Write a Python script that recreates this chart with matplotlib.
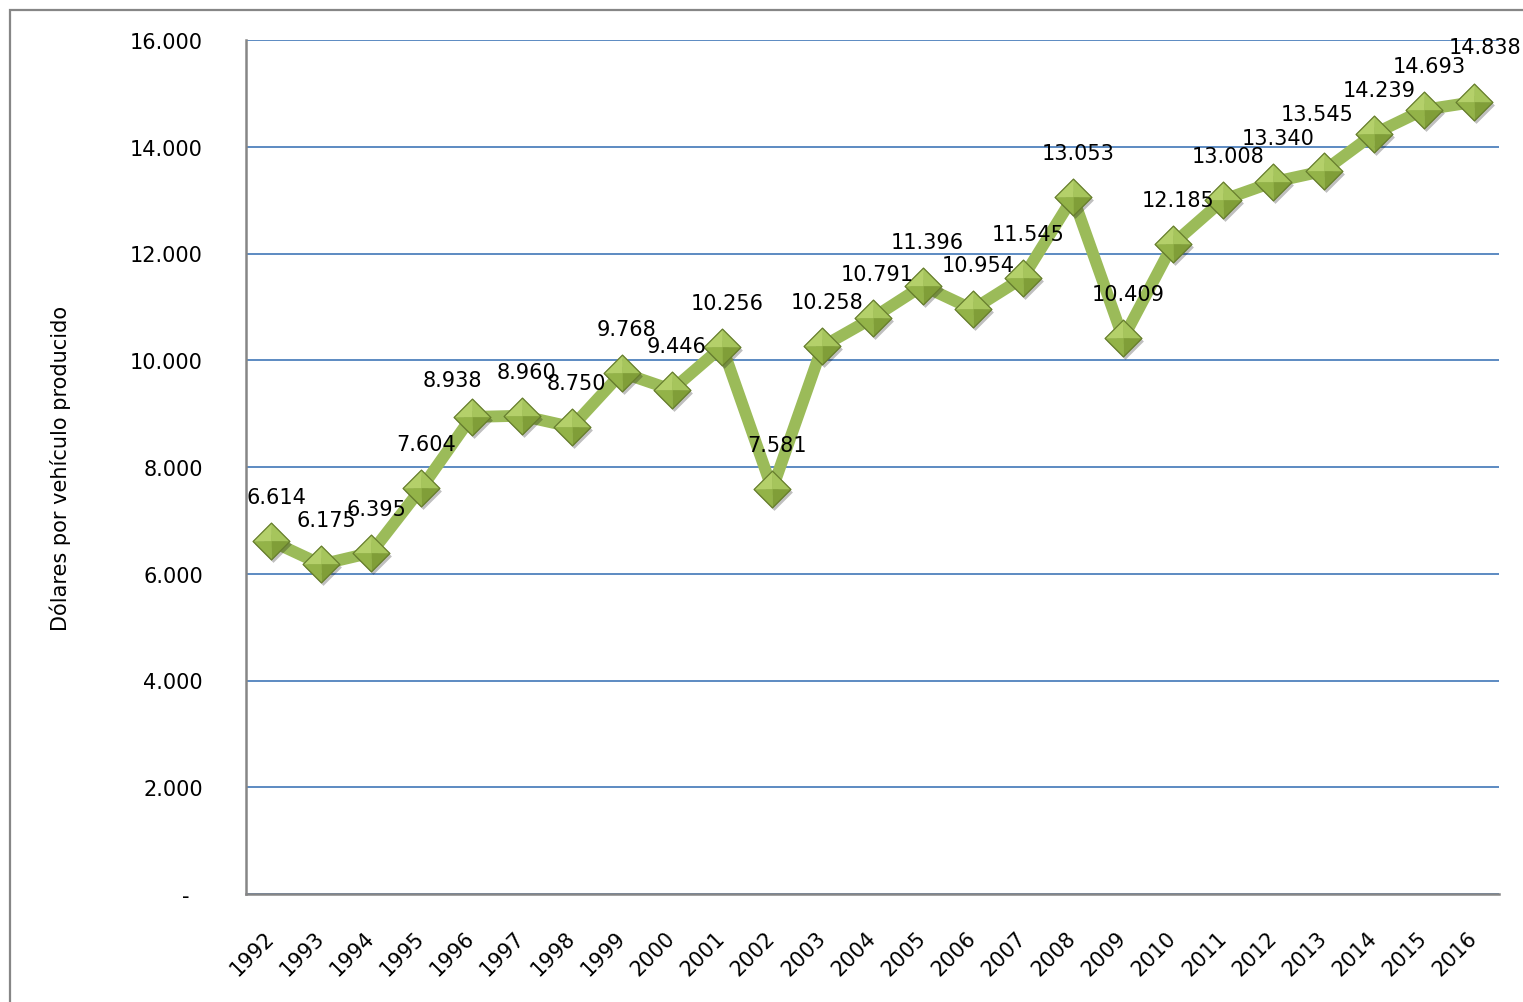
import matplotlib
matplotlib.use("Agg")
import matplotlib.pyplot as plt
from matplotlib.path import Path
from matplotlib.patches import Rectangle
from matplotlib.transforms import ScaledTranslation

years = ["1992", "1993", "1994", "1995", "1996", "1997", "1998", "1999", "2000",
         "2001", "2002", "2003", "2004", "2005", "2006", "2007", "2008", "2009",
         "2010", "2011", "2012", "2013", "2014", "2015", "2016"]
values = [6614, 6175, 6395, 7604, 8938, 8960, 8750, 9768, 9446, 10256, 7581,
          10258, 10791, 11396, 10954, 11545, 13053, 10409, 12185, 13008, 13340,
          13545, 14239, 14693, 14838]
y_ticks = [0, 2000, 4000, 6000, 8000, 10000, 12000, 14000, 16000]
y_label = "Dólares por vehículo producido"

W, H = 1523, 1003
GREEN = "#9BBB59"
GRAY = "#868686"


def fmt(v):
    if v == 0:
        return "-  "
    return f"{v:,}".replace(",", ".")


def tri(a, b):
    return Path([(0, 0), a, b, (0, 0)],
                [Path.MOVETO, Path.LINETO, Path.LINETO, Path.CLOSEPOLY])


L, T, R, B = (-1, 0), (0, 1), (1, 0), (0, -1)
faces = [(tri(L, T), "#b4d06a"), (tri(T, R), "#a6c55c"),
         (tri(R, B), "#809e38"), (tri(B, L), "#93b348")]
outline = Path([L, T, R, B, L],
               [Path.MOVETO, Path.LINETO, Path.LINETO, Path.LINETO, Path.CLOSEPOLY])

fig = plt.figure(figsize=(W / 100, H / 100), dpi=100)
ax = fig.add_axes([246 / W, 1 - 895 / H, (1499 - 246) / W, (895 - 41) / H])

# outer chart frame
fig.patches.append(Rectangle((10 / W, -0.02), 1.1, (1 - 11 / H) + 0.02,
                             transform=fig.transFigure, fill=False,
                             edgecolor=GRAY, linewidth=1.6))

x = list(range(len(years)))
ax.plot(x, values, color=GREEN, linewidth=8.5, solid_joinstyle="round", zorder=3)

ms = 26.5
shadow = ax.transData + ScaledTranslation(2 / 100, -3 / 100, fig.dpi_scale_trans)
ax.plot(x, values, linestyle="none", marker=outline, markersize=ms,
        markerfacecolor="#000000", markeredgecolor="none", alpha=0.25,
        transform=shadow, zorder=4)
for path, col in faces:
    ax.plot(x, values, linestyle="none", marker=path, markersize=ms,
            markerfacecolor=col, markeredgecolor=col, markeredgewidth=0.4, zorder=5)
ax.plot(x, values, linestyle="none", marker=outline, markersize=ms,
        markerfacecolor="none", markeredgecolor="#667d2e", markeredgewidth=0.9,
        zorder=6)

# data labels (pixel offsets, a few moved by hand as in the original)
special = {4: (-19, 37), 21: (-6, 57), 24: (11, 55)}
for i, v in enumerate(values):
    dx, dy = special.get(i, (5, 44))
    ax.annotate(fmt(v), (i, v), xytext=(dx, dy), textcoords="offset pixels",
                ha="center", va="center", fontsize=15, color="black", zorder=7)

ax.set_xlim(-0.5, len(years) - 0.5)
ax.set_ylim(0, 16000)
ax.set_yticks(y_ticks)
ax.set_yticklabels([fmt(v) for v in y_ticks], fontsize=15)
ax.set_xticks(x)
ax.set_xticklabels(years, fontsize=15, rotation=45, ha="right", va="top")
ax.tick_params(axis="y", length=0, pad=31)
ax.tick_params(axis="x", length=0, pad=24)
off = ScaledTranslation(7 / 100, 0, fig.dpi_scale_trans)
for lbl in ax.get_xticklabels():
    lbl.set_transform(lbl.get_transform() + off)

ax.yaxis.grid(True, color="#4F81BD", linewidth=1.3)
ax.set_axisbelow(True)
for side in ["top", "right"]:
    ax.spines[side].set_visible(False)
for side in ["left", "bottom"]:
    ax.spines[side].set_color(GRAY)
    ax.spines[side].set_linewidth(1.8)
    ax.spines[side].set_zorder(2.5)

ax.set_ylabel(y_label, fontsize=15)
ax.yaxis.set_label_coords(-(246 - 60) / (1499 - 246), 0.5)
ax.yaxis.label.set_verticalalignment("center")

fig.savefig("out.png", dpi=100)
